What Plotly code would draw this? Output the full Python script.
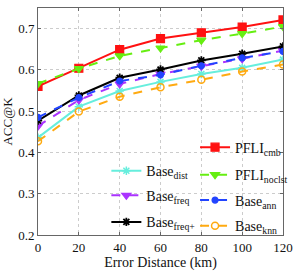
import plotly.graph_objects as go

x_km = [0, 20, 40, 60, 80, 100, 120]
pfli_cmb = [0.560, 0.604, 0.649, 0.676, 0.690, 0.704, 0.721]
pfli_noclst = [0.567, 0.603, 0.634, 0.653, 0.672, 0.688, 0.705]
base_ann = [0.485, 0.533, 0.573, 0.588, 0.610, 0.629, 0.645]
base_knn = [0.427, 0.499, 0.535, 0.558, 0.576, 0.596, 0.613]
base_dist = [0.436, 0.511, 0.549, 0.571, 0.590, 0.605, 0.625]
base_freq = [0.464, 0.527, 0.566, 0.590, 0.609, 0.627, 0.647]
base_freqp = [0.477, 0.538, 0.581, 0.601, 0.623, 0.639, 0.657]

x_ticks = [0, 20, 40, 60, 80, 100, 120]
y_ticks = [0.2, 0.3, 0.4, 0.5, 0.6, 0.7]

FONT = "Liberation Serif"

fig = go.Figure()

legend_pos = {}

def add(name, y, color, dash, symbol, legend, lx, ly, msize=7, mline=1.2, mfill=None):
    fig.add_trace(go.Scatter(
        x=x_km, y=y, name=name, mode="lines+markers",
        line=dict(color=color, width=2, dash=dash),
        marker=dict(symbol=symbol, size=msize, color=mfill if mfill else color,
                    line=dict(color=color, width=mline)),
        legend=legend, showlegend=True,
    ))
    legend_pos[legend] = (lx, ly)

add("Base<sub>dist</sub>", base_dist, "#66eedd", "solid", "asterisk-open", "legend2", 0.279, 0.281, 7, 1.5)
add("Base<sub>freq</sub>", base_freq, "#aa33ff", "dash", "triangle-down", "legend3", 0.279, 0.173, 8)
add("Base<sub>freq+</sub>", base_freqp, "#000000", "solid", "asterisk-open", "legend4", 0.279, 0.056, 7, 1.8)
add("PFLI<sub>cmb</sub>", pfli_cmb, "#ff1111", "solid", "square", "legend5", 0.641, 0.385, 8)
add("PFLI<sub>noclst</sub>", pfli_noclst, "#66ee11", "dash", "triangle-down", "legend6", 0.641, 0.264, 8)
add("Base<sub>ann</sub>", base_ann, "#2244ff", "dash", "circle", "legend7", 0.641, 0.152, 6)
add("Base<sub>knn</sub>", base_knn, "#ffaa11", "dash", "circle-open", "legend8", 0.641, 0.039, 7, 1.5)

axis_common = dict(
    showline=True, linecolor="#666666", linewidth=1, mirror="ticks",
    ticks="inside", ticklen=3, tickcolor="#666666",
    showgrid=True, gridcolor="#cccccc", griddash="dot", gridwidth=1,
    zeroline=False, tickfont=dict(family=FONT, size=13, color="#111111"),
)

legends = {}
for key, (lx, ly) in legend_pos.items():
    legends[key] = dict(x=lx, y=ly, xanchor="left", yanchor="middle",
                        bgcolor="rgba(0,0,0,0)", font=dict(family=FONT, size=14),
                        tracegroupgap=0, itemwidth=30)

fig.update_layout(
    width=300, height=273,
    margin=dict(l=37, r=12, t=7, b=35),
    paper_bgcolor="white", plot_bgcolor="white",
    font=dict(family=FONT, color="#111111"),
    showlegend=True,
    xaxis=dict(range=[0, 120], tickvals=x_ticks,
               title=dict(text="Error Distance (km)", font=dict(family=FONT, size=14), standoff=2),
               **axis_common),
    yaxis=dict(range=[0.2, 0.75], tickvals=y_ticks, tickformat=".1f",
               title=dict(text="ACC@K", font=dict(family=FONT, size=13), standoff=2),
               **axis_common),
    **legends,
)

fig.write_html("out.html", config={"displayModeBar": False},
               post_script="document.body.style.margin='0';")
